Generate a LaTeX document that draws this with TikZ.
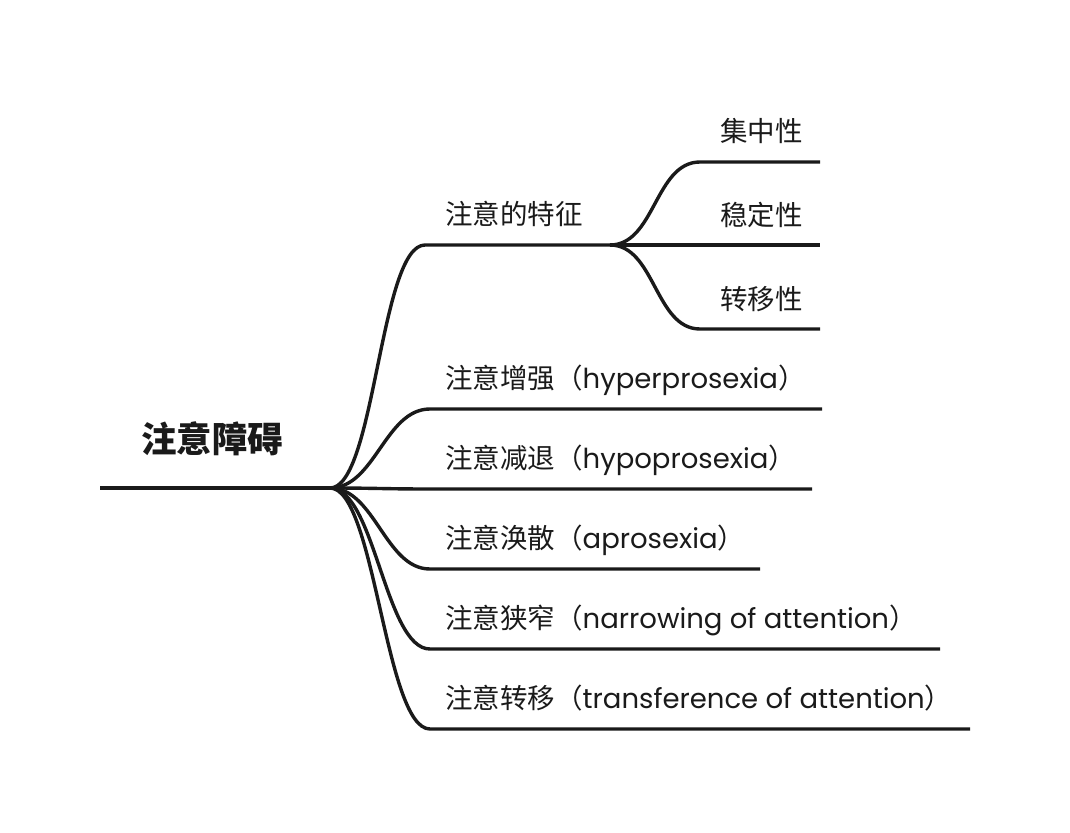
\documentclass[tikz,border=0pt]{standalone}
\usepackage{fontspec}
\newfontfamily\cjk{Noto Sans CJK SC}
\newfontfamily\lat{Poppins}
\definecolor{ink}{HTML}{1A1A1A}
\begin{document}
\begin{tikzpicture}[x=1pt,y=-1pt,
  conn/.style={draw=ink,line width=3.4pt},
  lbl/.style={anchor=base west,inner sep=0pt,text=ink,font=\cjk\fontsize{27.5}{32}\selectfont},
  rootlbl/.style={anchor=base,inner sep=0pt,text=ink,font=\cjk\bfseries\fontsize{35.5}{40}\selectfont}]
\useasboundingbox (0,0) rectangle (1070,832);
\fill[white] (0,0) rectangle (1070,832);
% root
\coordinate (rs) at (100,488);
\coordinate (hub) at (330,488);
\node[rootlbl] (root) at (212,452) {注意障碍};
\draw[conn] (rs) -- (hub);
% branch starts / ends
\coordinate (b1) at (425,245); \coordinate (e1) at (610,245);
\coordinate (b2) at (430,409); \coordinate (e2) at (822,409);
\coordinate (b3) at (430,489); \coordinate (e3) at (812,489);
\coordinate (b4) at (430,569); \coordinate (e4) at (760,569);
\coordinate (b5) at (430,649); \coordinate (e5) at (940,649);
\coordinate (b6) at (430,729); \coordinate (e6) at (970,729);
\foreach \i in {1,...,6}{
  \draw[conn] (hub) .. controls +(45,0) and +(-45,0) .. (b\i) -- (e\i);
}
% labels
\node[lbl] (l1) at (445,224) {注意的特征};
\node[lbl] (l2) at (445,388) {注意增强（{\lat hyperprosexia}）};
\node[lbl] (l3) at (445,468) {注意减退（{\lat hypoprosexia}）};
\node[lbl] (l4) at (445,548) {注意涣散（{\lat aprosexia}）};
\node[lbl] (l5) at (445,628) {注意狭窄（{\lat narrowing of attention}）};
\node[lbl] (l6) at (445,708) {注意转移（{\lat transference of attention}）};
% sub-branches
\coordinate (s1) at (700,162); \coordinate (t1) at (820,162);
\coordinate (t2) at (820,245);
\coordinate (s3) at (700,329); \coordinate (t3) at (820,329);
\draw[conn] (e1) .. controls +(45,0) and +(-45,0) .. (s1) -- (t1);
\draw[conn] (e1) -- (t2);
\draw[conn] (e1) .. controls +(45,0) and +(-45,0) .. (s3) -- (t3);
\node[lbl] (m1) at (720,142) {集中性};
\node[lbl] (m2) at (720,225) {稳定性};
\node[lbl] (m3) at (720,309) {转移性};
\end{tikzpicture}
\end{document}
